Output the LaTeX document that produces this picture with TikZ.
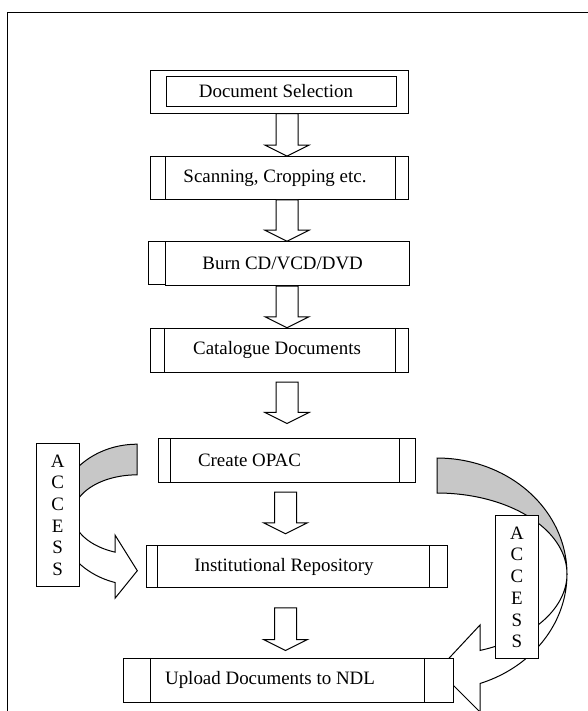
\documentclass[tikz,border=0pt]{standalone}
\usepackage{fontspec}
\setmainfont{Liberation Serif}
\usetikzlibrary{calc}

\tikzset{
  procbox/.style={draw, fill=white, inner sep=0pt, line width=0.75pt},
  accessbox/.style={draw, fill=white, inner sep=0pt, align=center, line width=0.75pt,
    minimum width=32pt, minimum height=107.4pt, font=\fontsize{14.2}{16.3}\selectfont},
  fatarrow/.style={draw, fill=white, line width=0.75pt,
    to path={let \p1=(\tikztostart), \p2=(\tikztotarget) in
      (\x1-8.25pt,\y1) -- (\x1-8.25pt,\y2+8.25pt) -- (\x1-16.5pt,\y2+8.25pt) -- (\x1,\y2)
      -- (\x1+16.5pt,\y2+8.25pt) -- (\x1+8.25pt,\y2+8.25pt) -- (\x1+8.25pt,\y1) -- cycle}},
  backband/.style={draw, fill=black!22, line width=0.75pt},
  frontband/.style={draw, fill=white, line width=0.75pt}
}

\begin{document}
\begin{tikzpicture}[x=0.75pt, y=-0.75pt, font=\fontsize{14.2}{17}\selectfont]
    \useasboundingbox (0,0) rectangle (588,711);
    % Frame round the chart
    \draw[line width=0.9pt] (7.5,711) -- (7.5,12.3) -- (588,12.3);

    % Left access arrow
    \draw[backband] plot[domain=270:180, samples=40] ({137+80*cos(\x)},{514.7+70.5*sin(\x)})
      -- plot[domain=180:270, samples=40] ({137+64*cos(\x)},{514.7+39.85*sin(\x)}) -- cycle;
    \draw[frontband] plot[domain=180:105.96, samples=40] ({137+80*cos(\x)},{514.7+70.5*sin(\x)})
      -- (115,598.3) -- (137.3,570.7) -- (115,535)
      -- plot[domain=110.1:180, samples=40] ({137+64*cos(\x)},{514.7+39.85*sin(\x)}) -- cycle;

    % Right access arrow
    \draw[backband] plot[domain=-90:0, samples=40] ({437+130*cos(\x)},{574+116*sin(\x)})
      -- plot[domain=0:-90, samples=40] ({437+130*cos(\x)},{574+81*sin(\x)}) -- cycle;
    \draw[frontband] plot[domain=0:70.68, samples=40] ({437+130*cos(\x)},{574+116*sin(\x)})
      -- (480,712) -- (438,670) -- (480,625)
      -- plot[domain=70.68:0, samples=40] ({437+130*cos(\x)},{574+81*sin(\x)}) -- cycle;

    % Process boxes
    \node[procbox, minimum width=193.7pt, minimum height=32.25pt] (sel) at (279.85,91.5)
      {Document Selection\hspace*{5.8pt}};
    \draw[line width=0.75pt] ([shift={(12pt,-5.5pt)}]sel.north west)
      rectangle ([shift={(-9.75pt,5.5pt)}]sel.south east);
    \node[procbox, minimum width=193.7pt, minimum height=32pt] (scan) at (279.85,178)
      {Scanning, Cropping etc.\hspace*{7.3pt}};
    \node[procbox, minimum width=182.5pt, minimum height=33pt] (burn) at (287.35,263.7)
      {Burn CD/VCD/DVD\hspace*{7pt}};
    \draw[line width=0.75pt] ([xshift=-12.3pt]burn.north west)
      rectangle ([yshift=1.3pt]burn.south west);
    \node[procbox, minimum width=193.5pt, minimum height=32.8pt] (cat) at (279.7,350.15)
      {Catalogue Documents\hspace*{4pt}};
    \node[procbox, minimum width=193.1pt, minimum height=32.5pt] (opac) at (286.75,460.65)
      {Create OPAC\hspace*{55.9pt}};
    \node[procbox, minimum width=225.6pt, minimum height=31.3pt] (repo) at (296.6,566.85)
      {Institutional Repository\hspace*{18.9pt}};
    \node[procbox, minimum width=247pt, minimum height=33pt] (up) at (288.35,680.3)
      {Upload Documents to NDL\hspace*{27.5pt}};
    % Side strips
    \foreach \n/\l/\r in {scan/11.25pt/10.5pt, cat/10.7pt/10.3pt, opac/9.45pt/12.1pt,
        repo/8.5pt/13.3pt, up/20.25pt/22pt} {
      \draw[line width=0.75pt] ([xshift=\l]\n.north west) -- ([xshift=\l]\n.south west);
      \draw[line width=0.75pt] ([xshift=-\r]\n.north east) -- ([xshift=-\r]\n.south east);
    }

    % Block arrows between the steps
    \coordinate (ax) at (287,0);
    \coordinate (bx) at (285.5,0);
    \draw[fatarrow] (sel.south -| ax) to (scan.north -| ax);
    \draw[fatarrow] (scan.south -| ax) to (burn.north -| ax);
    \draw[fatarrow] (burn.south -| ax) to (cat.north -| ax);
    \draw[fatarrow] ($(cat.south -| ax)+(0,9.7)$) to ($(opac.north -| ax)+(0,-15)$);
    \draw[fatarrow] ($(opac.south -| bx)+(0,9.4)$) to ($(repo.north -| bx)+(0,-11.7)$);
    \draw[fatarrow] ($(repo.south -| bx)+(0,19.6)$) to ($(up.north -| bx)+(0,-7.3)$);

    % Access labels
    \node[accessbox] (accleft) at (57.75,515.2) {A\\C\\C\\E\\S\\S};
    \node[accessbox] (accright) at (516.85,587.35) {A\\C\\C\\E\\S\\S};
\end{tikzpicture}
\end{document}
